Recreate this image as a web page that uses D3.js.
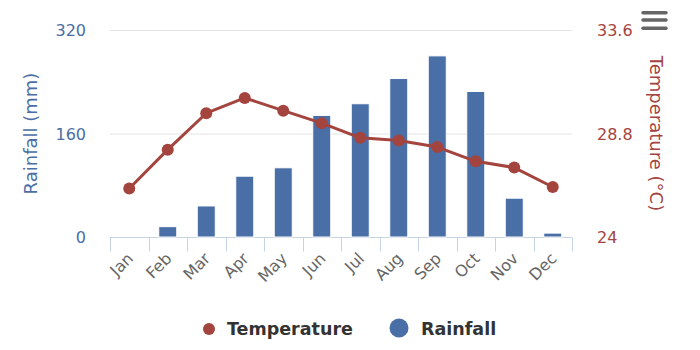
<!DOCTYPE html>
<html><head><meta charset="utf-8">
<script src="https://cdn.jsdelivr.net/npm/d3@7"></script>
<style>body{margin:0;background:#fff;}svg{display:block;}</style>
</head><body>
<script>
const months = ["Jan","Feb","Mar","Apr","May","Jun","Jul","Aug","Sep","Oct","Nov","Dec"];
const rainfall = [0, 16, 48, 94, 107, 188, 206, 245, 280, 225, 60, 6];
const temperature = [26.25, 28.05, 29.74, 30.45, 29.86, 29.28, 28.6, 28.48, 28.17, 27.51, 27.22, 26.32];
const rainTicks = [0, 160, 320];
const tempTicks = [24, 28.8, 33.6];

(function () {
const W = 700, H = 350;
const blue = "#4a6ea6", red = "#a4443f";
const font = "'DejaVu Sans', Verdana, sans-serif";
const svg = d3.select("body").append("svg").attr("width", W).attr("height", H)
  .style("font-family", font);

const pL = 110, pR = 572, pT = 30, pB = 237;
const x = d3.scaleBand().domain(months).range([pL, pR]);
const yR = d3.scaleLinear().domain([0, 320]).range([pB, pT]);
const yT = d3.scaleLinear().domain([24, 33.6]).range([pB, pT]);

// grid
svg.append("g").selectAll("line").data(rainTicks.filter(d => d > 0)).join("line")
  .attr("x1", pL).attr("x2", pR).attr("y1", d => yR(d) + 0.5).attr("y2", d => yR(d) + 0.5)
  .attr("stroke", "#e3e3e3").attr("stroke-width", 1);

// x axis
const xAxis = svg.append("g").attr("transform", `translate(0,${pB + 0.5})`);
xAxis.append("line").attr("x1", pL).attr("x2", pR).attr("stroke", "#c6d3e3");
const edges = months.map(m => x(m)).concat([pR]);
xAxis.selectAll("line.tick").data(edges).join("line").attr("class", "tick")
  .attr("x1", d => Math.round(d) + 0.5).attr("x2", d => Math.round(d) + 0.5)
  .attr("y1", 0).attr("y2", 14).attr("stroke", "#c6d3e3");
xAxis.selectAll("text").data(months).join("text")
  .attr("transform", d => `translate(${x(d) + x.bandwidth() / 2 + 5},${22}) rotate(-45)`)
  .attr("text-anchor", "end").attr("fill", "#666").attr("font-size", 16).text(d => d);

// left axis labels
svg.append("g").selectAll("text").data(rainTicks).join("text")
  .attr("x", 86).attr("y", d => yR(d) + 6).attr("text-anchor", "end")
  .attr("fill", blue).attr("font-size", 16).text(d => d);
svg.append("text").attr("transform", `translate(37,${(pT + pB) / 2}) rotate(-90)`)
  .attr("text-anchor", "middle").attr("fill", blue).attr("font-size", 18).text("Rainfall (mm)");

// right axis labels
svg.append("g").selectAll("text").data(tempTicks).join("text")
  .attr("x", 597).attr("y", d => yT(d) + 6).attr("text-anchor", "start")
  .attr("fill", red).attr("font-size", 16).text(d => d);
svg.append("text").attr("transform", `translate(650,${(pT + pB) / 2}) rotate(90)`)
  .attr("text-anchor", "middle").attr("fill", red).attr("font-size", 18).text("Temperature (°C)");

// bars
const bw = 18;
svg.append("g").selectAll("rect").data(months).join("rect")
  .attr("x", (d) => x(d) + x.bandwidth() / 2 - bw / 2)
  .attr("width", bw)
  .attr("y", (d, i) => yR(rainfall[i]))
  .attr("height", (d, i) => pB - yR(rainfall[i]))
  .attr("fill", blue).attr("stroke", "#fff").attr("stroke-width", 1)
  .style("display", (d, i) => rainfall[i] > 0 ? null : "none");

// temperature line
const line = d3.line().x((d, i) => x(months[i]) + x.bandwidth() / 2).y(d => yT(d));
svg.append("path").datum(temperature).attr("d", line)
  .attr("fill", "none").attr("stroke", red).attr("stroke-width", 3).attr("stroke-linejoin", "round");
svg.append("g").selectAll("circle").data(temperature).join("circle")
  .attr("cx", (d, i) => x(months[i]) + x.bandwidth() / 2).attr("cy", d => yT(d))
  .attr("r", 6).attr("fill", red);

// legend
const lg = svg.append("g");
lg.append("circle").attr("cx", 209).attr("cy", 329).attr("r", 6).attr("fill", red);
lg.append("text").attr("x", 227).attr("y", 335).attr("fill", "#333").attr("font-size", 17.5)
  .attr("font-weight", "bold").text("Temperature");
lg.append("circle").attr("cx", 399).attr("cy", 328).attr("r", 9.5).attr("fill", blue);
lg.append("text").attr("x", 421).attr("y", 335).attr("fill", "#333").attr("font-size", 17.5)
  .attr("font-weight", "bold").text("Rainfall");

// menu icon
const menu = svg.append("g").attr("stroke", "#666").attr("stroke-width", 3.5).attr("stroke-linecap", "round");
[12.7, 20, 28.3].forEach(yy => menu.append("line").attr("x1", 643).attr("x2", 666).attr("y1", yy).attr("y2", yy));
})();
</script>
</body></html>
